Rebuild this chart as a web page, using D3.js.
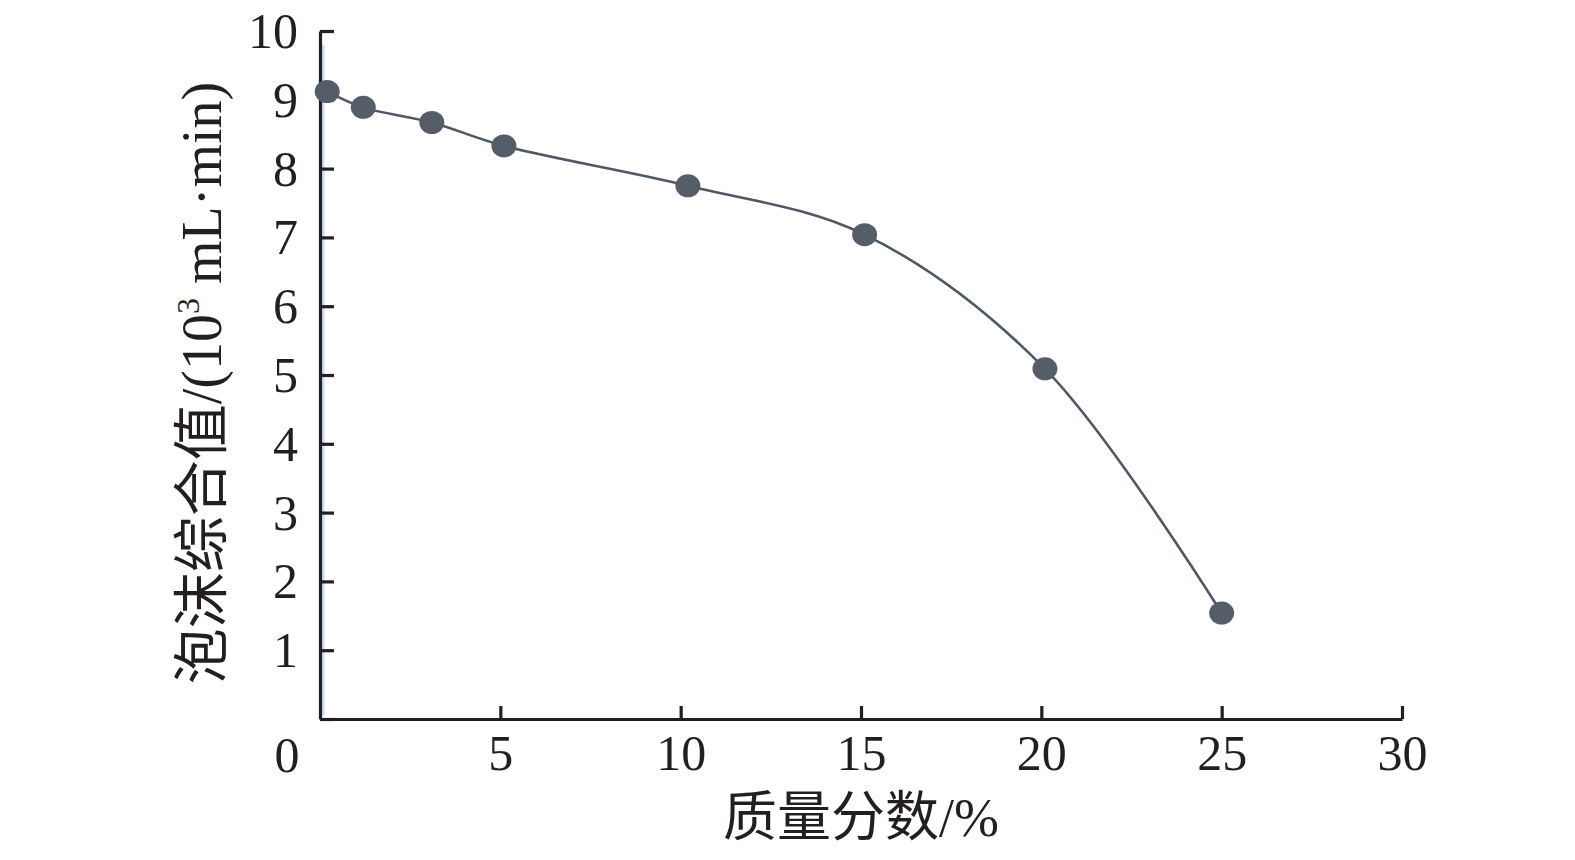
<!DOCTYPE html>
<html>
<head>
<meta charset="utf-8">
<script src="https://cdn.jsdelivr.net/npm/d3@7"></script>
<style>
body { margin: 0; background: #fff; }
text { font-family: "Liberation Serif", "Times New Roman", "Noto Sans CJK SC", serif; fill: #231f20; }
</style>
</head>
<body>
<script>
var w = 1575;
var h = 860;

// mass fraction (%) and foam composite value (10^3 mL·min)
var massFraction = [0.2, 1.2, 3.1, 5.1, 10.2, 15.1, 20.1, 25.0];
var foamValue = [9.12, 8.89, 8.67, 8.33, 7.75, 7.04, 5.09, 1.54];
var xTicks = [5, 10, 15, 20, 25, 30];
var yTicks = [0, 1, 2, 3, 4, 5, 6, 7, 8, 9, 10];

var dataset = [];
for (var i = 0; i < massFraction.length; i++) {
    dataset.push([massFraction[i], foamValue[i]]);
}

var x = d3.scaleLinear().domain([0, 30]).range([320, 1402]);
var y = d3.scaleLinear().domain([0, 10]).range([719, 31]);

var svg = d3.select("body")
    .append("svg")
    .attr("width", w)
    .attr("height", h);

// faint blue strip beside the y axis (scan artefact)
svg.append("line")
    .attr("x1", x(0) + 3)
    .attr("x2", x(0) + 3)
    .attr("y1", y(9.8))
    .attr("y2", y(0.05))
    .attr("stroke", "#c8e0f2")
    .attr("stroke-width", 3);

var xAxis = svg.append("g")
    .attr("transform", "translate(0," + y(0) + ")")
    .call(d3.axisBottom(x).tickValues(xTicks).tickSizeInner(-13).tickSizeOuter(0).tickPadding(26));

var yAxis = svg.append("g")
    .attr("transform", "translate(" + x(0) + ",0)")
    .call(d3.axisLeft(y).tickValues(yTicks).tickSizeInner(-14).tickSizeOuter(0).tickPadding(22)
        .tickFormat(function (d) { return d === 0 ? "" : d; }));

[xAxis, yAxis].forEach(function (g) {
    g.select(".domain").attr("stroke", "#231f20").attr("stroke-width", 3.2);
    g.selectAll(".tick line").attr("stroke", "#231f20").attr("stroke-width", 3.2);
    g.selectAll(".tick text")
        .attr("font-size", 50)
        .attr("fill", "#231f20")
        .style("font-family", "'Liberation Serif', serif");
});
xAxis.selectAll(".tick text").attr("dy", "0.5em");
yAxis.selectAll(".tick text").attr("dy", "0.33em");

// shared origin label
svg.append("text")
    .text("0")
    .attr("x", x(0) - 33)
    .attr("y", y(0) + 53)
    .attr("text-anchor", "middle")
    .attr("font-size", 50);

var line = d3.line()
    .x(function (d) { return x(d[0]); })
    .y(function (d) { return y(d[1]); })
    .curve(d3.curveCatmullRom);

svg.append("path")
    .datum(dataset)
    .attr("d", line)
    .attr("fill", "none")
    .attr("stroke", "#4f5865")
    .attr("stroke-width", 2.6);

svg.selectAll("ellipse.pt")
    .data(dataset)
    .enter()
    .append("ellipse")
    .attr("class", "pt")
    .attr("cx", function (d) { return x(d[0]); })
    .attr("cy", function (d) { return y(d[1]); })
    .attr("rx", 12.5)
    .attr("ry", 11.5)
    .attr("fill", "#555d69");

// axis titles
svg.append("text")
    .text("质量分数/%")
    .attr("x", 861)
    .attr("y", 836)
    .attr("text-anchor", "middle")
    .attr("font-size", 54);

var yTitle = svg.append("text")
    .attr("transform", "translate(221,383) rotate(-90)")
    .attr("text-anchor", "middle")
    .attr("font-size", 56);
yTitle.append("tspan").text("泡沫综合值/(10");
yTitle.append("tspan").text("3").attr("font-size", 32).attr("dy", -22);
yTitle.append("tspan").text(" mL·min)").attr("dy", 22);
</script>
</body>
</html>
